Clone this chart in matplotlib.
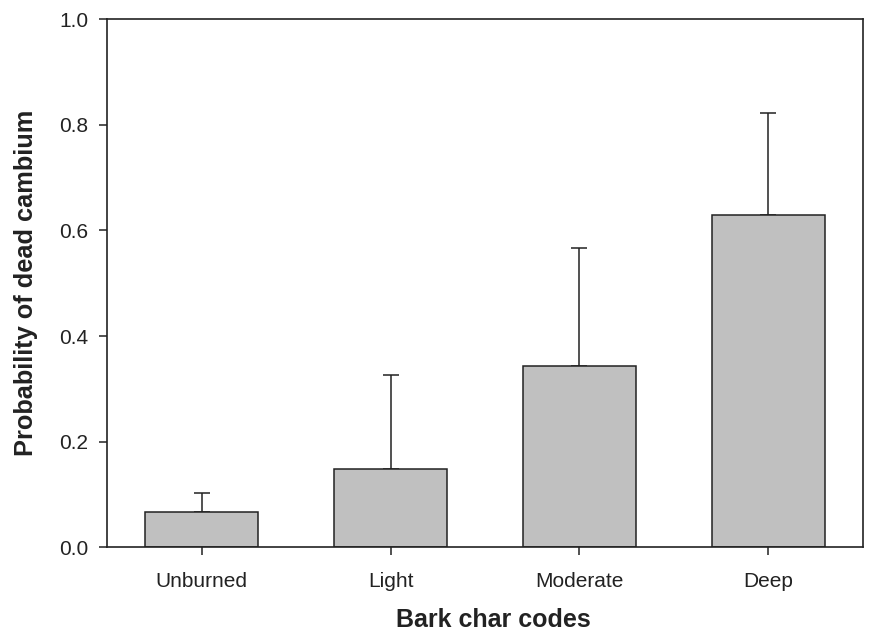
import matplotlib
matplotlib.use("Agg")
import matplotlib.pyplot as plt
import numpy as np

# Bark char classes and the probability of dead cambium (mean, upper error)
categories = ["Unburned", "Light", "Moderate", "Deep"]
probability = [0.068, 0.148, 0.344, 0.630]
upper_error = [0.035, 0.178, 0.223, 0.193]

plt.rcParams["font.family"] = ["Liberation Sans", "DejaVu Sans"]

fig = plt.figure(figsize=(8.69, 6.35), dpi=100)
ax = fig.add_axes([0.1235, 0.1378, 0.8692, 0.8322])

x = np.arange(len(categories))
ax.bar(x, probability, width=0.6, color="#c0c0c0", edgecolor="#222222",
       linewidth=1.1, zorder=2)
ax.errorbar(x, probability, yerr=[np.zeros(len(x)), upper_error], fmt="none",
            ecolor="#222222", elinewidth=1.1, capsize=5.8, capthick=1.1, zorder=1)

ax.set_xlim(-0.5, 3.5)
ax.set_ylim(0, 1.0)
ax.set_xticks(x)
ax.set_xticklabels(categories)
ax.set_yticks([0.0, 0.2, 0.4, 0.6, 0.8, 1.0])
ax.set_yticklabels(["0.0", "0.2", "0.4", "0.6", "0.8", "1.0"])

for side in ["left", "right", "top", "bottom"]:
    ax.spines[side].set_linewidth(1.2)
    ax.spines[side].set_color("#222222")

ax.tick_params(axis="both", direction="out", length=5.5, width=1.1,
               color="#222222", labelsize=15, labelcolor="#222222")
ax.tick_params(axis="x", pad=12)
ax.tick_params(axis="y", pad=8)

ax.set_xlabel("Bark char codes", fontsize=18, fontweight="bold",
              color="#222222", va="baseline")
ax.xaxis.set_label_coords(0.5106, -0.1505)
ax.set_ylabel("Probability of dead cambium", fontsize=18.3, fontweight="bold",
              color="#222222", labelpad=15)

fig.savefig("out.png", dpi=100)
